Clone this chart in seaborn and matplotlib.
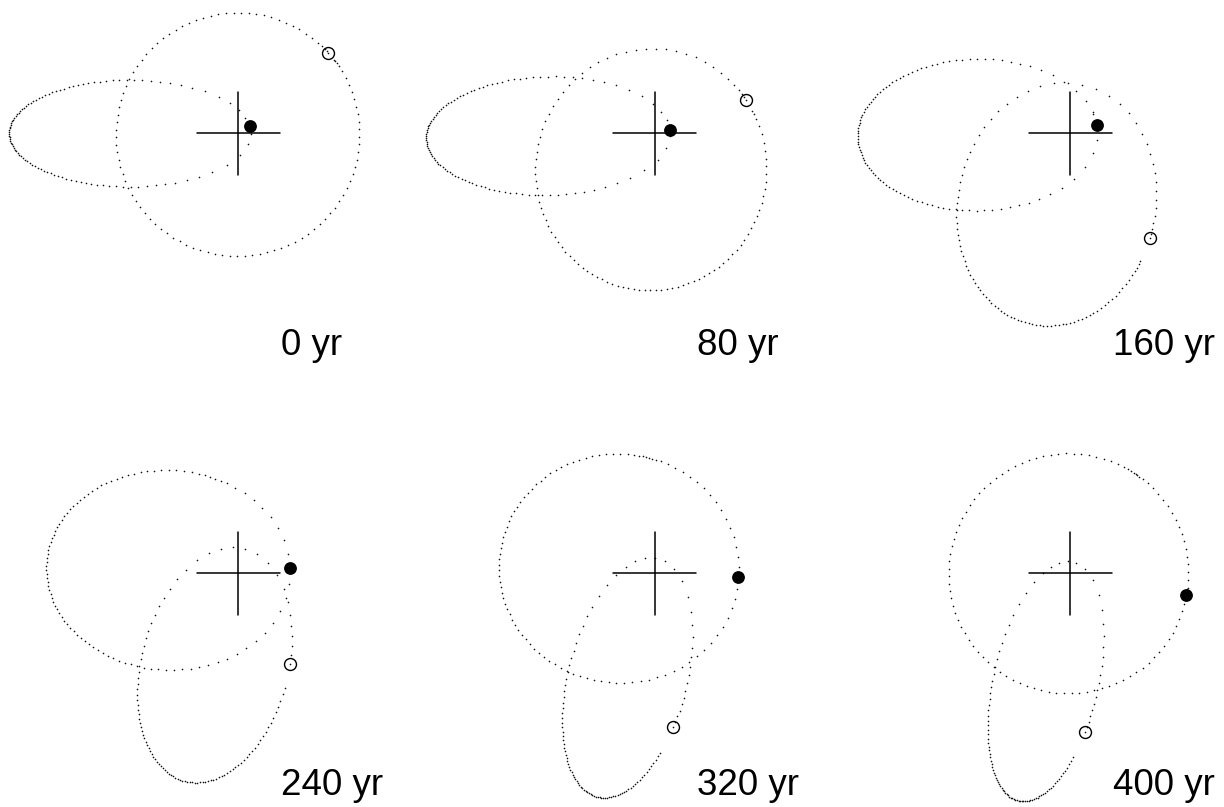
import numpy as np
import pandas as pd
import matplotlib
matplotlib.use("Agg")
import matplotlib.pyplot as plt
import seaborn as sns

# Snapshot epochs (yr); every panel traces the next 80 yr of motion
epochs_yr = [0, 80, 160, 240, 320, 400]
trace_length_yr = 80.0

# Orbit of the body drawn as a filled dot (lengths in units of the mean orbit radius)
filled_a = [0.998, 1.007, 0.991, 1.008, 0.992, 0.991]
filled_e = [0.897, 0.874, 0.775, 0.574, 0.300, 0.017]
filled_peri_deg = [0.0, 1.3, 0.9, -2.7, -7.9, 0.0]
filled_period_yr = [79.8, 80.0, 79.5, 80.0, 79.5, 79.0]
filled_angle_deg = [33.6, 12.6, 18.0, 5.8, -2.8, -10.7]

# Orbit of the body drawn as an open circle
open_a = [1.006, 1.000, 1.012, 0.991, 1.017, 1.013]
open_e = [0.010, 0.300, 0.590, 0.790, 0.876, 0.904]
open_peri_deg = [60.0, 84.3, 78.7, 75.5, 75.5, 77.1]
open_period_yr = [80.7, 81.0, 83.0, 82.5, 83.9, 84.3]
open_angle_deg = [41.7, 20.3, -52.9, -60.3, -83.1, -84.9]

# Output cadence of the integration: the step shrinks during close passages
DT_MAX = 0.8
R_CLOSE = 0.36
BETA = 1.0


def solve_kepler(M, e):
    M = np.mod(M + np.pi, 2 * np.pi) - np.pi
    E = M + e * np.sin(M) if e < 0.8 else (np.pi if M >= 0 else -np.pi) * 0.9 + 0.1 * M
    for _ in range(60):
        E = E - (E - e * np.sin(E) - M) / (1 - e * np.cos(E))
    return E


def mean_from_true(nu, e):
    E = 2 * np.arctan2(np.sqrt(1 - e) * np.sin(nu / 2), np.sqrt(1 + e) * np.cos(nu / 2))
    return E - e * np.sin(E)


class Orbit:
    def __init__(self, a, e, peri_deg, period, angle_deg):
        self.a, self.e, self.P = a, e, period
        self.w = np.deg2rad(peri_deg)
        self.M0 = mean_from_true(np.deg2rad(angle_deg - peri_deg), e)

    def at(self, t):
        E = solve_kepler(self.M0 + 2 * np.pi * t / self.P, self.e)
        nu = 2 * np.arctan2(np.sqrt(1 + self.e) * np.sin(E / 2),
                            np.sqrt(1 - self.e) * np.cos(E / 2))
        r = self.a * (1 - self.e * np.cos(E))
        return r * np.cos(self.w + nu), r * np.sin(self.w + nu), r


def output_times(orbits, T):
    t, times = 0.0, []
    while t <= T + 1e-9:
        times.append(t)
        rmin = min(o.at(t)[2] for o in orbits)
        t += DT_MAX * min(1.0, rmin / R_CLOSE) ** BETA
    return times


sns.set_theme(style="white")
plt.rcParams["font.family"] = ["Liberation Sans", "DejaVu Sans"]

W, H, DPI = 1224, 807, 100
fig = plt.figure(figsize=(W / DPI, H / DPI), dpi=DPI)
fig.patch.set_facecolor("white")

SCALE = 121.0                      # pixels per length unit
col_px = [238.3, 654.5, 1070.5]    # star position in each column
row_px = [133.3, 573.3]            # star position in each row
XL, YL = (-1.95, 1.25), (-1.93, 1.10)
ARM = 0.345

for k, year in enumerate(epochs_yr):
    cx, cy = col_px[k % 3], row_px[k // 3]
    rect = [(cx + XL[0] * SCALE) / W, (H - (cy - YL[0] * SCALE)) / H,
            (XL[1] - XL[0]) * SCALE / W, (YL[1] - YL[0]) * SCALE / H]
    ax = fig.add_axes(rect)
    ax.set_xlim(*XL)
    ax.set_ylim(*YL)
    ax.set_axis_off()

    inner = Orbit(filled_a[k], filled_e[k], filled_peri_deg[k], filled_period_yr[k], filled_angle_deg[k])
    outer = Orbit(open_a[k], open_e[k], open_peri_deg[k], open_period_yr[k], open_angle_deg[k])
    times = output_times([inner, outer], trace_length_yr)

    rows = []
    for name, orb in (("filled", inner), ("open", outer)):
        for t in times:
            x, y, _ = orb.at(t)
            rows.append((name, x, y))
    track = pd.DataFrame(rows, columns=["body", "x", "y"])

    sns.scatterplot(data=track, x="x", y="y", color="#111111", s=1.4,
                    linewidth=0, legend=False, ax=ax, clip_on=False)

    # central star
    ax.plot([-ARM, ARM], [0, 0], color="black", lw=1.1, clip_on=False)
    ax.plot([0, 0], [-ARM, ARM], color="black", lw=1.1, clip_on=False)

    fx, fy, _ = inner.at(0.0)
    ox, oy, _ = outer.at(0.0)
    ax.plot([fx], [fy], "o", ms=8.2, color="black", zorder=5, clip_on=False)
    ax.plot([ox], [oy], "o", ms=8.6, mfc="none", mec="black", mew=1.0, zorder=5, clip_on=False)

    ax.text(0.353, -1.832, f"{year} yr", fontsize=26.5, ha="left", va="baseline",
            color="black", clip_on=False)

fig.savefig("out.png", dpi=DPI, facecolor="white")
